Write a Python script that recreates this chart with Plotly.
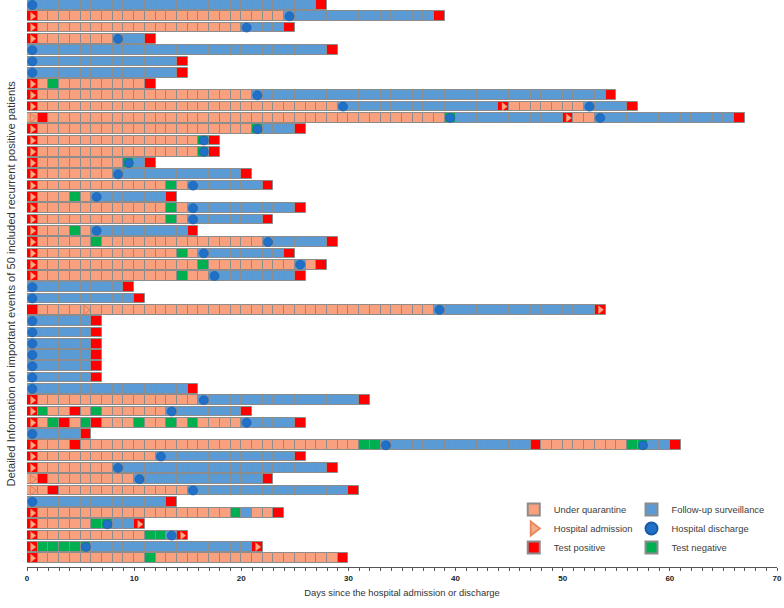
import plotly.graph_objects as go

# Each patient row: sequence of day cells, token = code + run length
# q: under quarantine, f: follow-up surveillance, P: test positive, N: test negative
# A: test positive + hospital admission, a: quarantine + hospital admission (open)
# D: follow-up + hospital discharge, G: test negative + hospital discharge
timelines = [
    "D f26 P",
    "A q23 D f13 P",
    "A q19 D f3 P",
    "A q7 D f2 P",
    "D f27 P",
    "D f13 P",
    "D f13 P",
    "A q1 N q8 P",
    "A q20 D f32 P",
    "A q28 D f14 A q7 D f3 P",
    "a P q37 G f10 A q2 D f12 P",
    "A q20 G f3 P",
    "A q15 G P",
    "A q15 G P",
    "A q8 G f1 P",
    "A q7 D f11 P",
    "A q12 N q1 D f6 P",
    "A q3 N q1 D f6 P",
    "A q12 N q1 D f9 P",
    "A q12 N q1 D f6 P",
    "A q3 N q1 D f8 P",
    "A q5 N q15 D f5 P",
    "A q13 N q1 D f7 P",
    "A q15 N q8 D q1 P",
    "A q13 N q2 D f7 P",
    "D f8 P",
    "D f9 P",
    "P q4 a q32 D f14 A",
    "D f5 P",
    "D f5 P",
    "D f5 P",
    "D f5 P",
    "D f5 P",
    "D f5 P",
    "D f14 P",
    "A q15 D f14 P",
    "A N q2 P q1 N q6 D f6 P",
    "A q1 N P q1 N P q3 N q2 N q1 N q4 D f4 P",
    "D f4 P",
    "A q3 P q26 N N D f13 P q8 N G f2 P",
    "A q11 D f12 P",
    "A q7 D f19 P",
    "a P q8 D f11 P",
    "a q1 P q12 D f14 P",
    "D f12 P",
    "A q18 N f1 q2 P",
    "A q5 N G f2 A",
    "A q10 N N D A",
    "A N N N N G f15 A",
    "A q10 N q17 P",
]

legend_labels = {
    "quarantine": "Under quarantine",
    "followup": "Follow-up surveillance",
    "admission": "Hospital admission",
    "discharge": "Hospital discharge",
    "positive": "Test positive",
    "negative": "Test negative",
}

x_ticks = [0, 10, 20, 30, 40, 50, 60, 70]
x_title = "Days since the hospital admission or discharge"
y_title = "Detailed Information on important events of 50 included recurrent positive patients"

ORANGE = "#F9A07F"
BLUE = "#5B9BD5"
RED = "#FF0000"
GREEN = "#00B050"
DOT = "#2170C8"
CELL_LINE = "#8C8C8C"

cell_kind = {"q": "quarantine", "a": "quarantine", "f": "followup", "D": "followup",
             "P": "positive", "A": "positive", "N": "negative", "G": "negative"}

cells = {k: ([], []) for k in ["quarantine", "followup", "positive", "negative"]}
adm_filled = ([], [])
adm_open = ([], [])
dis = ([], [])

for r, line in enumerate(timelines, start=1):
    day = 0
    for tok in line.split():
        code = tok[0]
        n = int(tok[1:]) if len(tok) > 1 else 1
        for _ in range(n):
            kind = cell_kind[code]
            cells[kind][0].append(day)
            cells[kind][1].append(r)
            if code == "A":
                adm_filled[0].append(day + 0.5); adm_filled[1].append(r)
            elif code == "a":
                adm_open[0].append(day + 0.5); adm_open[1].append(r)
            if code in ("D", "G"):
                dis[0].append(day + 0.5); dis[1].append(r)
            day += 1

fig = go.Figure()

bar_style = {
    "quarantine": (ORANGE, "legend", 1),
    "followup": (BLUE, "legend2", 1),
    "positive": (RED, "legend", 3),
    "negative": (GREEN, "legend2", 3),
}
for kind, (color, leg, rank) in bar_style.items():
    days, rows = cells[kind]
    fig.add_trace(go.Bar(
        orientation="h", y=rows, x=[1] * len(days), base=days, width=0.86,
        marker=dict(color=color, line=dict(color=CELL_LINE, width=1)),
        name=legend_labels[kind], legend=leg, legendrank=rank, hoverinfo="skip",
    ))

fig.add_trace(go.Scatter(
    x=adm_filled[0], y=adm_filled[1], mode="markers",
    marker=dict(symbol="triangle-right", size=7, color="#F7AB86",
                line=dict(color="#E8895F", width=0.5)),
    name=legend_labels["admission"], legend="legend", legendrank=2, hoverinfo="skip",
))
fig.add_trace(go.Scatter(
    x=adm_open[0], y=adm_open[1], mode="markers",
    marker=dict(symbol="triangle-right-open", size=8, color="#E07E55",
                line=dict(width=1)),
    showlegend=False, hoverinfo="skip",
))
fig.add_trace(go.Scatter(
    x=dis[0], y=dis[1], mode="markers",
    marker=dict(symbol="circle", size=9, color=DOT, line=dict(color="#1A5AA6", width=0.6)),
    name=legend_labels["discharge"], legend="legend2", legendrank=2, hoverinfo="skip",
))

leg_common = dict(bgcolor="rgba(0,0,0,0)", borderwidth=0, orientation="v",
                  itemsizing="constant", yanchor="top", xanchor="left",
                  font=dict(family="Liberation Sans, Arial, sans-serif", size=9.4, color="#404040"),
                  tracegroupgap=0)

fig.update_layout(
    width=784, height=608,
    margin=dict(l=27, r=7, t=0, b=41),
    plot_bgcolor="white", paper_bgcolor="white",
    barmode="overlay", bargap=0,
    showlegend=True,
    legend=dict(x=0.649, y=0.127, **leg_common),
    legend2=dict(x=0.806, y=0.127, **leg_common),
    xaxis=dict(
        range=[0, 70], tickvals=x_ticks, ticktext=[str(v) for v in x_ticks],
        showline=True, linecolor="#555555", linewidth=1,
        ticks="outside", ticklen=3, tickcolor="#555555",
        minor=dict(dtick=1, ticks="outside", ticklen=3, tickcolor="#555555", showgrid=False),
        showgrid=False, zeroline=False,
        tickfont=dict(family="Liberation Sans, Arial, sans-serif", size=8, color="#222222", weight="bold"),
        title=dict(text=x_title, standoff=7,
                   font=dict(family="Liberation Sans, Arial, sans-serif", size=9.4, color="#333333")),
        automargin=False,
    ),
    yaxis=dict(
        range=[50.78, 0.557], showticklabels=False, showline=False, showgrid=False,
        zeroline=False, ticks="", automargin=False,
    ),
    annotations=[dict(
        text=y_title, textangle=-90, xref="paper", yref="paper", x=0, y=0.5,
        xanchor="center", yanchor="middle", xshift=-17, showarrow=False,
        font=dict(family="Liberation Sans, Arial, sans-serif", size=11.2, color="#333333"),
    )],
)

fig.write_html("out.html", config={"displayModeBar": False},
               post_script="document.body.style.margin='0';")
